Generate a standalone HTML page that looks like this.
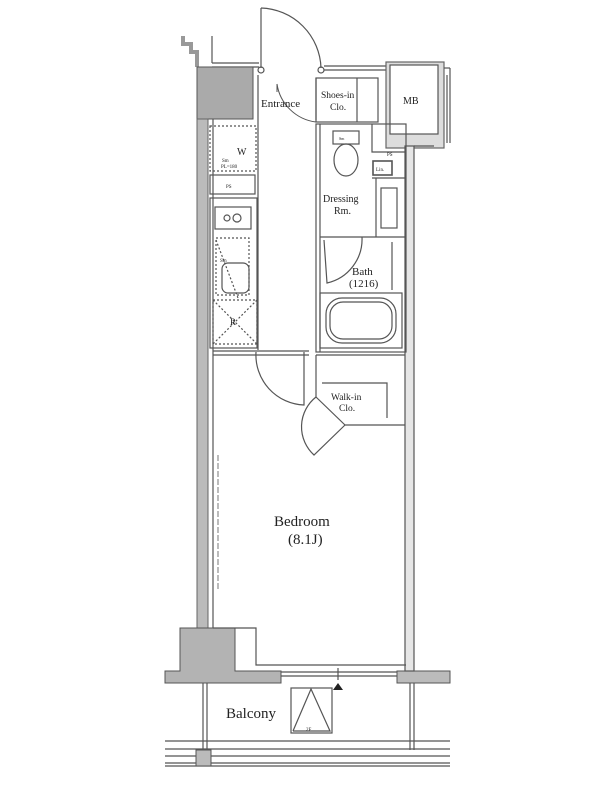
<!DOCTYPE html>
<html><head><meta charset="utf-8"><style>
html,body{margin:0;padding:0;background:#fff;width:600px;height:800px;overflow:hidden}
svg{display:block}
text{font-family:"Liberation Serif",serif;fill:#222}
</style></head><body>
<svg width="600" height="800" viewBox="0 0 600 800" xmlns="http://www.w3.org/2000/svg">
<g fill="none" stroke="#555" stroke-width="1.2">
<!-- top-left stepped wall -->
<polyline points="183,36 183,44 191,44 191,52 197,52 197,67" stroke="#999" stroke-width="4"/>
<line x1="212" y1="36" x2="212" y2="63"/>
<line x1="212" y1="63" x2="259" y2="63"/>
<line x1="212" y1="67" x2="259" y2="67"/>
<!-- entrance door -->
<line x1="261" y1="68" x2="261" y2="8"/>
<path d="M261,8 A62,62 0 0 1 321,68"/>
<circle cx="261" cy="70" r="3"/><circle cx="321" cy="70" r="3"/>
<line x1="324" y1="66" x2="388" y2="66"/><line x1="324" y1="70" x2="388" y2="70"/>
<!-- MB -->
<rect x="386" y="62" width="58" height="86" fill="#ddd" stroke="#666"/>
<rect x="390" y="65" width="48" height="69" fill="#fff"/>
<line x1="444" y1="68" x2="450" y2="68"/>
<line x1="447" y1="75" x2="447" y2="143"/>
<line x1="450" y1="68" x2="450" y2="143"/>
</g>
<!-- gray walls -->
<rect x="197" y="67" width="56" height="52" fill="#aaa" stroke="#555"/>
<rect x="197" y="119" width="11" height="510" fill="#bbb" stroke="#666"/>
<path d="M197,628 L180,628 L180,671 L165,671 L165,683 L281,683 L281,671 L235,671 L235,628 L208,628 Z" fill="#b3b3b3" stroke="#555"/>
<path d="M397,671 L450,671 L450,683 L397,683 Z" fill="#bbb" stroke="#555"/>
<g fill="none" stroke="#555" stroke-width="1.2">
<line x1="213" y1="119" x2="213" y2="628"/>
<!-- right wall -->
<rect x="405" y="146" width="9" height="525" fill="#e6e6e6"/>
<line x1="414" y1="146" x2="434" y2="146"/>
<!-- entrance inner -->
<line x1="258" y1="75" x2="258" y2="350"/>
<line x1="316" y1="78" x2="316" y2="120"/>
<path d="M277,84 L277,92 M277,84 A45,45 0 0 0 316,122" stroke-width="1"/>
<!-- Shoes-in -->
<rect x="316" y="78" width="62" height="44"/>
<line x1="357" y1="78" x2="357" y2="122"/>
<!-- toilet block -->
<rect x="316" y="124" width="90" height="228"/>
<line x1="320" y1="124" x2="320" y2="352"/>
<rect x="333" y="131" width="26" height="13"/>
<ellipse cx="346" cy="160" rx="12" ry="16"/>
<rect x="373" y="161" width="19" height="14" stroke-width="1.6"/>
<polyline points="372,124 372,152 405,152"/>
<line x1="372" y1="178" x2="405" y2="178"/>
<rect x="381" y="188" width="16" height="40"/>
<line x1="376" y1="178" x2="376" y2="237"/>
<line x1="320" y1="237" x2="405" y2="237"/>
<path d="M324,240 L327,283 A45,45 0 0 0 362,237"/>
<line x1="392" y1="242" x2="392" y2="290"/>
<rect x="320" y="293" width="82" height="55"/>
<rect x="326" y="298" width="70" height="45" rx="16"/>
<rect x="330" y="302" width="62" height="37" rx="13"/>
<!-- walk-in -->
<line x1="316" y1="355" x2="405" y2="355"/>
<polyline points="322,383 387,383 387,418"/>
<line x1="345" y1="425" x2="405" y2="425"/>
<line x1="316" y1="355" x2="316" y2="397"/>
<line x1="316" y1="397" x2="345" y2="425"/>
<path d="M316,397 A38,38 0 0 0 314,455 L345,425"/>
<!-- hallway door -->
<line x1="213" y1="351" x2="309" y2="351"/>
<line x1="213" y1="355" x2="309" y2="355"/>
<path d="M256,352 A50,50 0 0 0 304,405 L304,352"/>
<!-- kitchen column -->
<rect x="210" y="126" width="46" height="45" stroke-dasharray="2,2"/>
<rect x="210" y="175" width="45" height="19"/>
<rect x="210" y="198" width="47" height="150"/>
<rect x="215" y="207" width="36" height="22"/>
<circle cx="227" cy="218" r="3"/><circle cx="237" cy="218" r="4"/>
<rect x="216" y="238" width="33" height="57" stroke-dasharray="2,2"/>
<rect x="222" y="263" width="27" height="30" rx="6"/>
<line x1="216" y1="240" x2="238" y2="298" stroke-dasharray="2,2"/>
<rect x="213" y="300" width="44" height="44" stroke-dasharray="2,2"/>
<line x1="213" y1="300" x2="257" y2="344" stroke-dasharray="2,2"/>
<line x1="257" y1="300" x2="213" y2="344" stroke-dasharray="2,2"/>
<!-- bedroom -->
<polyline points="213,628 256,628 256,665 406,665"/>
<line x1="281" y1="672" x2="397" y2="672"/>
<line x1="281" y1="676" x2="397" y2="676"/>
<line x1="338" y1="668" x2="338" y2="680"/>
<line x1="218" y1="455" x2="218" y2="590" stroke-dasharray="6,2" stroke-width="0.8"/>
<!-- balcony -->
<line x1="203" y1="683" x2="203" y2="750"/><line x1="207" y1="683" x2="207" y2="750"/>
<line x1="410" y1="683" x2="410" y2="750"/><line x1="414" y1="683" x2="414" y2="750"/>
<line x1="165" y1="741" x2="450" y2="741"/>
<line x1="165" y1="749" x2="450" y2="749"/>
<line x1="165" y1="756" x2="450" y2="756"/>
<line x1="165" y1="763" x2="450" y2="763"/>
<line x1="165" y1="766" x2="450" y2="766"/>
<rect x="291" y="688" width="41" height="45"/>
<polyline points="293,731 311,689 330,731 293,731"/>
</g>
<rect x="196" y="750" width="15" height="16" fill="#bbb" stroke="#555"/>
<polygon points="338,683 333,690 343,690" fill="#222"/>
<g font-size="11">
<text x="261" y="107">Entrance</text>
<text x="321" y="98" font-size="9.5">Shoes-in</text>
<text x="330" y="110" font-size="9.5">Clo.</text>
<text x="403" y="104" font-size="10">MB</text>
<text x="323" y="202" font-size="10">Dressing</text>
<text x="334" y="214" font-size="10">Rm.</text>
<text x="352" y="275">Bath</text>
<text x="349" y="287">(1216)</text>
<text x="331" y="400" font-size="9.5">Walk-in</text>
<text x="339" y="411" font-size="9.5">Clo.</text>
<text x="237" y="155" font-size="10">W</text>
<text x="222" y="162" font-size="5">Sm</text>
<text x="221" y="168" font-size="5">PL=180</text>
<text x="226" y="188" font-size="5">PS</text>
<text x="387" y="156" font-size="5">PS</text>
<text x="376" y="171" font-size="5">Lin.</text>
<text x="339" y="140" font-size="4">Sm</text>
<text x="220" y="262" font-size="5">Sm</text>
<text x="230" y="325" font-size="9">R</text>
<text x="274" y="526" font-size="15">Bedroom</text>
<text x="288" y="544" font-size="15">(8.1J)</text>
<text x="226" y="718" font-size="15">Balcony</text>
<text x="306" y="731" font-size="5">2F</text>
</g>
</svg>
</body></html>
